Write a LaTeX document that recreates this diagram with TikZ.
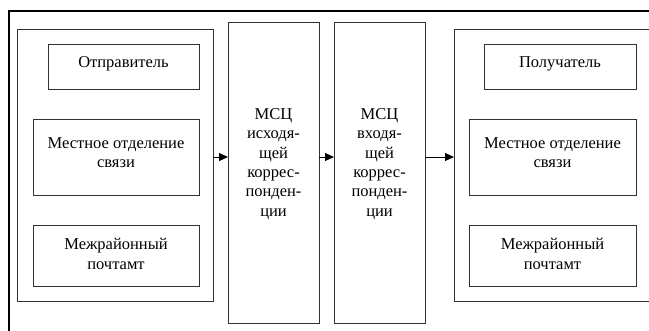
\documentclass[tikz,border=0pt]{standalone}
\usepackage{fontspec}
\setmainfont{Liberation Serif}
\usetikzlibrary{arrows.meta}
\begin{document}
\begin{tikzpicture}[x=1pt,y=-1pt,
  box/.style={draw=black!80, line width=1pt},
  lbl/.style={font=\fontsize{16.5}{19.3}\selectfont, align=center, inner sep=0pt},
  arr/.style={draw=black, line width=1pt, -{Triangle[length=9pt,width=8pt]}}]
\useasboundingbox (0,0) rectangle (649,330);
% outer frame (only top and left edges visible)
\draw[line width=2.2pt] (9,335) -- (9,11) -- (655,11);
% left group
\draw[box] (17,29) rectangle (213,301);
\coordinate (lgE) at (213,157);
\draw[box] (48,44) rectangle (199,89);
\node[lbl] (snd) at (123.5,64) {Отправитель};
\draw[box] (33,119) rectangle (199,195);
\node[lbl] (lo1) at (116,153) {Местное отделение\\связи};
\draw[box] (33,225) rectangle (199,286);
\node[lbl] (mp1) at (116,254) {Межрайонный\\почтамт};
% MSC out
\draw[box] (228,22) rectangle (319,323);
\coordinate (m1W) at (228,157);
\coordinate (m1E) at (319,157);
\node[lbl] (msc1) at (273.5,164) {МСЦ\\исходя-\\щей\\коррес-\\понден-\\ции};
% MSC in
\draw[box] (334,22) rectangle (425,323);
\coordinate (m2W) at (334,157);
\coordinate (m2E) at (425,157);
\node[lbl] (msc2) at (379.5,164) {МСЦ\\входя-\\щей\\коррес-\\понден-\\ции};
% right group
\draw[box] (655,29) -- (454,29) -- (454,301) -- (655,301);
\coordinate (rgW) at (454,157);
\draw[box] (484,44) rectangle (636,89);
\node[lbl] (rcv) at (560,64) {Получатель};
\draw[box] (469,119) rectangle (636,195);
\node[lbl] (lo2) at (552.5,153) {Местное отделение\\связи};
\draw[box] (469,225) rectangle (636,286);
\node[lbl] (mp2) at (552.5,254) {Межрайонный\\почтамт};
% arrows
\draw[arr] (lgE) -- (m1W);
\draw[arr] (m1E) -- (m2W);
\draw[arr] (m2E) -- (rgW);
\end{tikzpicture}
\end{document}
